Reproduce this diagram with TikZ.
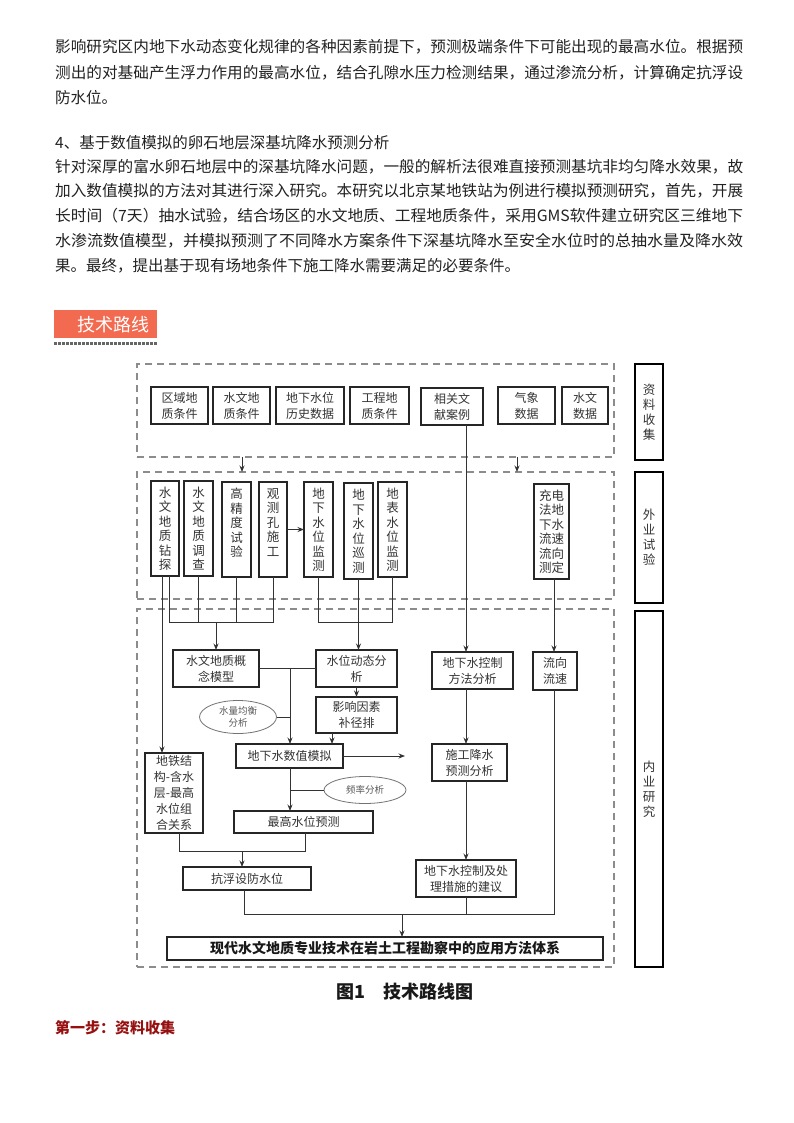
\documentclass[tikz,border=0pt]{standalone}
\usepackage{graphicx}
\usepackage{fontspec}
\setmainfont{Noto Sans CJK SC}
\usetikzlibrary{arrows.meta,shapes.geometric,calc}
\definecolor{hdcol}{RGB}{242,106,80}
\definecolor{stepred}{RGB}{150,16,16}
\definecolor{txt}{RGB}{34,34,34}
\newcommand{\bodyline}[1]{\resizebox{688pt}{\height}{#1}}
\tikzset{
  body/.style={anchor=west, inner sep=0pt, text=txt, font=\fontsize{15.5}{18}\selectfont},
  grp/.style={draw=black!45, line width=1.6pt, dash pattern=on 7pt off 5pt, inner sep=0pt, outer sep=0pt},
  lab/.style={draw=black, line width=1.6pt, inner sep=0pt, outer sep=0pt, minimum width=28pt, align=center,
     text=black!80, font=\fontsize{12.5}{15}\selectfont},
  box/.style={draw=black!85, line width=1.1pt, inner sep=0pt, outer sep=0pt, align=center,
     text=black!80, font=\fontsize{12}{16}\selectfont},
  vbox/.style={box, font=\fontsize{12.5}{14.5}\selectfont},
  ell/.style={draw=black!55, line width=0.8pt, ellipse, inner sep=0pt, outer sep=0pt, align=center,
     text=black!65, font=\fontsize{9.5}{12}\selectfont},
  ln/.style={draw=black!80, line width=0.9pt},
  arr/.style={ln, -{Stealth[length=6.5pt,width=5pt]}},
}
\begin{document}
\begin{tikzpicture}[x=1pt,y=-1pt]
\fill[white] (0,0) rectangle (794,1123);
\useasboundingbox (0,0) rectangle (794,1123);

% ---------- body text ----------
\node[body] (p1) at (55,47) {\bodyline{影响研究区内地下水动态变化规律的各种因素前提下，预测极端条件下可能出现的最高水位。根据预}};
\node[body] (p2) at (55,73) {\bodyline{测出的对基础产生浮力作用的最高水位，结合孔隙水压力检测结果，通过渗流分析，计算确定抗浮设}};
\node[body] (p3) at (55,98) {防水位。};
\node[body] (h4) at (55,143) {4、基于数值模拟的卵石地层深基坑降水预测分析};
\node[body] (q1) at (55,167) {\bodyline{针对深厚的富水卵石地层中的深基坑降水问题，一般的解析法很难直接预测基坑非均匀降水效果，故}};
\node[body] (q2) at (55,191) {\bodyline{加入数值模拟的方法对其进行深入研究。本研究以北京某地铁站为例进行模拟预测研究，首先，开展}};
\node[body] (q3) at (55,216) {\bodyline{长时间（7天）抽水试验，结合场区的水文地质、工程地质条件，采用GMS软件建立研究区三维地下}};
\node[body] (q4) at (55,241) {\bodyline{水渗流数值模型，并模拟预测了不同降水方案条件下深基坑降水至安全水位时的总抽水量及降水效}};
\node[body] (q5) at (55,266) {果。最终，提出基于现有场地条件下施工降水需要满足的必要条件。};

% ---------- heading ----------
\node[fill=hdcol, anchor=north west, inner sep=0pt, minimum height=28pt, text=white,
      font=\fontsize{18}{20}\selectfont] (hd) at (54,310) {\hspace*{23pt}技术路线\hspace*{8pt}};
\draw[black!60, line width=3pt, dash pattern=on 3pt off 1pt] ($(hd.south west)+(0,5)$) -- ($(hd.south east)+(0,5)$);

% ---------- group frames ----------
\node[grp, minimum width=477pt, minimum height=93pt] (g1) at (375.5,410.5) {};
\node[grp, minimum width=477pt, minimum height=127pt] (g2) at (375.5,535.5) {};
\node[grp, minimum width=477pt, minimum height=358pt] (g3) at (375.5,788) {};

\node[lab, minimum height=96pt] (L1) at (649,412) {资\\料\\收\\集};
\node[lab, minimum height=131pt] (L2) at (649,537.5) {外\\业\\试\\验};
\node[lab, minimum height=356pt] (L3) at (649,789) {内\\业\\研\\究};

% ---------- row 1 ----------
\node[box, minimum width=57pt, minimum height=37pt] (r1a) at (179.5,405.5) {区域地\\质条件};
\node[box, minimum width=57pt, minimum height=37pt] (r1b) at (241.5,405.5) {水文地\\质条件};
\node[box, minimum width=68pt, minimum height=37pt] (r1c) at (310,405.5) {地下水位\\历史数据};
\node[box, minimum width=59pt, minimum height=37pt] (r1d) at (379.5,405.5) {工程地\\质条件};
\node[box, minimum width=62pt, minimum height=37pt] (r1e) at (452,406.5) {相关文\\献案例};
\node[box, minimum width=57pt, minimum height=37pt] (r1f) at (526.5,405.5) {气象\\数据};
\node[box, minimum width=46pt, minimum height=37pt] (r1g) at (585,405.5) {水文\\数据};

% ---------- row 2 ----------
\node[vbox, minimum width=28pt, minimum height=95pt] (v1) at (165,528.5) {水\\文\\地\\质\\钻\\探};
\node[vbox, minimum width=29pt, minimum height=95pt] (v2) at (198.5,528.5) {水\\文\\地\\质\\调\\查};
\node[vbox, minimum width=29pt, minimum height=95pt] (v3) at (236.5,529.5) {高\\精\\度\\试\\验\\\mbox{}};
\node[vbox, minimum width=28pt, minimum height=95pt] (v4) at (273,529.5) {观\\测\\孔\\施\\工\\\mbox{}};
\node[vbox, minimum width=29pt, minimum height=95pt] (v5) at (318.5,529.5) {地\\下\\水\\位\\监\\测};
\node[vbox, minimum width=29pt, minimum height=96pt] (v6) at (358.5,531) {地\\下\\水\\位\\巡\\测};
\node[vbox, minimum width=29pt, minimum height=95pt] (v7) at (392.5,529.5) {地\\表\\水\\位\\监\\测};
\node[vbox, minimum width=35pt, minimum height=95pt] (v8) at (551.5,531.5) {充电\\法地\\下水\\流速\\流向\\测定};

% ---------- row 3 ----------
\node[box, minimum width=86pt, minimum height=37pt] (m1) at (216,668.5) {水文地质概\\念模型};
\node[box, minimum width=81pt, minimum height=37pt] (m2) at (356.5,668.5) {水位动态分\\析};
\node[box, minimum width=81pt, minimum height=37pt] (m3) at (472.5,670.5) {地下水控制\\方法分析};
\node[box, minimum width=44pt, minimum height=38pt] (m4) at (555,671) {流向\\流速};
\node[box, minimum width=81pt, minimum height=36pt] (m5) at (356.5,715) {影响因素\\补径排};
\node[ell, minimum width=77pt, minimum height=33pt] (e1) at (238,717) {水量均衡\\分析};
\node[box, minimum width=107pt, minimum height=24pt] (m6) at (289.5,756) {地下水数值模拟};
\node[box, minimum width=58pt, minimum height=80pt] (m7) at (174,793) {地铁结\\构-含水\\层-最高\\水位组\\合关系};
\node[box, minimum width=75pt, minimum height=37pt] (m8) at (469.5,762.5) {施工降水\\预测分析};
\node[ell, minimum width=82pt, minimum height=27pt] (e2) at (365,790) {频率分析};
\node[box, minimum width=139pt, minimum height=22pt] (m9) at (303.5,822) {最高水位预测};
\node[box, minimum width=128pt, minimum height=23pt] (m10) at (247,878.5) {抗浮设防水位};
\node[box, minimum width=100pt, minimum height=37pt] (m11) at (466,878.5) {地下水控制及处\\理措施的建议};
\node[box, minimum width=436pt, minimum height=23pt, font=\fontsize{14}{16}\selectfont\bfseries, text=black!90] (m12) at (385,948.5) {现代水文地质专业技术在岩土工程勘察中的应用方法体系};

% ---------- helper coordinates ----------
\coordinate (xa) at (162,0);
\coordinate (xb) at (169,0);
\coordinate (cy1) at (0,622);
\coordinate (xl) at (466,0);
\coordinate (j1) at (290,0);
\coordinate (xc) at (332,0);
\coordinate (m6end) at (405,757);
\coordinate (xd) at (179,0);
\coordinate (yb) at (0,851);
\coordinate (xe) at (305,0);
\coordinate (xf) at (242,0);
\coordinate (xg) at (554,0);
\coordinate (yc) at (0,914);
\coordinate (xh) at (244,0);
\coordinate (xi) at (402,0);
\coordinate (xk) at (517,0);

% ---------- connectors ----------
\draw[arr] (xf |- g1.south) -- (xf |- g2.north);
\draw[arr] (xk |- g1.south) -- (xk |- g2.north);
\draw[arr] (xl |- r1e.south) -- (xl |- m3.north);
\draw[arr] (xl |- m3.south) -- (xl |- m8.north);
\draw[arr] (xl |- m8.south) -- (xl |- m11.north);

\draw[arr] (v4.east) -- (v5.west);
\draw[arr] (xa |- v1.south) -- (xa |- m7.north);
\draw[ln] (xb |- v1.south) -- (xb |- cy1) -- (v4.south |- cy1) -- (v4.south);
\draw[ln] (v2.south) -- (v2.south |- cy1);
\draw[ln] (v3.south) -- (v3.south |- cy1);
\draw[arr] (m1.north |- cy1) -- (m1.north);
\draw[ln] (v5.south) -- (v5.south |- cy1) -- (v7.south |- cy1) -- (v7.south);
\draw[arr] (v6.south) -- (v6.south |- m2.north);
\draw[arr] (xg |- v8.south) -- (xg |- m4.north);

\draw[ln] (m1.east) -- (m2.west);
\draw[arr] (j1 |- m1.east) -- (j1 |- m6.north);
\draw[ln] (e1.east) -- (e1.east -| j1);
\draw[arr] (m2.south) -- (m5.north);
\draw[arr] (xc |- m5.south) -- (xc |- m6.north);
\draw[arr] (m6.east) -- (m6.east -| m6end);
\draw[arr] (j1 |- m6.south) -- (j1 |- m9.north);
\draw[ln] (e2.west) -- (e2.west -| j1);

\draw[ln] (xd |- m7.south) -- (xd |- yb) -- (xe |- yb) -- (xe |- m9.south);
\draw[arr] (xf |- yb) -- (xf |- m10.north);

\draw[ln] (xh |- m10.south) -- (xh |- yc) -- (xg |- yc) -- (xg |- m4.south);
\draw[ln] (xl |- m11.south) -- (xl |- yc);
\draw[arr] (xi |- yc) -- (xi |- m12.north);

% ---------- caption ----------
\node[inner sep=0pt, text=black!90, font=\fontsize{18}{20}\selectfont\bfseries] (cap) at (405,992) {图1\quad 技术路线图};
\node[anchor=west, inner sep=0pt, text=stepred, font=\fontsize{15}{18}\selectfont\bfseries] (st) at (55,1028) {第一步：资料收集};
\end{tikzpicture}
\end{document}
